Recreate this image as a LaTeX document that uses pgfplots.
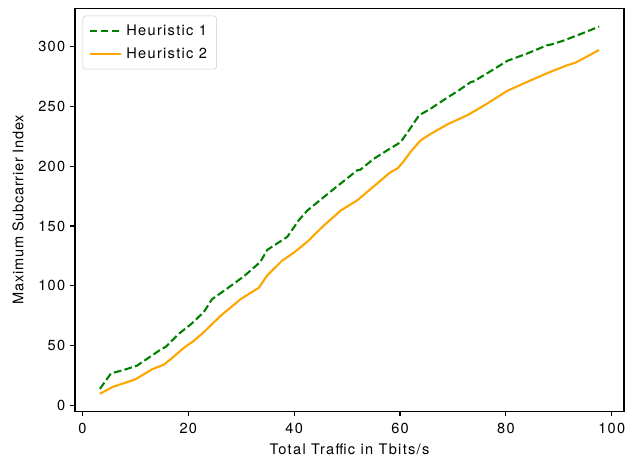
\documentclass[border=0pt]{standalone}
\usepackage{pgfplots}
\pgfplotsset{compat=1.18}
\usepackage{fontspec}
\setmainfont{TeX Gyre Heros}[LetterSpace=9]
\newfontfamily\ylabfont{TeX Gyre Heros}[LetterSpace=5]
\definecolor{mgreen}{HTML}{008000}
\definecolor{morange}{HTML}{FFA500}
\begin{document}
\begin{tikzpicture}
\begin{axis}[
  name=ax,
  scale only axis,
  width=395.3pt, height=290.2pt,
  xmin=-1.4, xmax=102.3,
  ymin=-4.5, ymax=332,
  xtick={0,20,40,60,80,100},
  ytick={0,50,100,150,200,250,300},
  tick align=outside,
  tick pos=left,
  major tick length=3.5pt,
  every tick/.style={black, line width=0.8pt},
  axis line style={line width=0.8pt},
  /pgf/number format/assume math mode=true,
  tick label style={font=\fontsize{10.5}{12}\selectfont},
  xticklabel style={yshift=-1.5pt},
  label style={font=\fontsize{10.5}{12}\selectfont},
  xlabel={Total Traffic in Tbits/s},
  ylabel={\ylabfont Maximum Subcarrier Index},
  xlabel style={at={(axis description cs:0.5,-0.0943)}, anchor=center},
  ylabel style={at={(axis description cs:-0.1038,0.5)}, anchor=center, rotate=0},
  legend style={at={(0,1)}, anchor=north west, xshift=5.5pt, yshift=-5.5pt,
    draw=black!20, rounded corners=2pt, font=\fontsize{10.5}{12}\selectfont,
    row sep=3pt, inner xsep=4pt, inner ysep=4.5pt,
    nodes={inner xsep=3pt}},
  legend cell align=left,
  legend image code/.code={\draw[#1] (0cm,0cm) -- (0.8cm,0cm);},
]
\addplot[mgreen, line width=1.5pt, dash pattern=on 5.55pt off 2.4pt] coordinates {
(3.3,14) (5.4,27) (7.8,29.8) (10.3,33.4) (12.5,40) (15.0,47.5) (15.7,49)
(18.2,60) (20.5,68) (22.9,78) (24.5,89) (27.4,98) (30.5,108) (33.6,120)
(34.9,130) (38.7,141) (40.9,155) (42.5,163) (45,172) (47.5,181) (49.5,188)
(51.9,196.5) (52.5,197) (55,206) (57.5,213) (60.1,220) (61.7,230) (63.6,242.5)
(65.8,248) (68.5,256) (71,263) (73.3,270) (74,271) (77,279) (80.3,288)
(84,294) (87.8,301) (88.5,301.5) (91,305) (94.5,311) (97.6,316.5)
};
\addlegendentry{Heuristic 1}
\addplot[morange, line width=1.5pt] coordinates {
(3.3,10) (5.9,16) (8,19) (10,22) (13.2,30.5) (15.4,34.3) (17,40) (19.2,48.5)
(21,54) (22.9,61.3) (26.1,75) (29.9,89) (33.3,98.4) (34.9,108.7) (37.7,121)
(40,128) (42.5,137) (45.5,150) (48.8,163) (51.9,171.4) (55,183) (58.2,195)
(59.5,198) (60.5,203) (62,212) (63.9,221.6) (65.8,227) (69,235) (72.7,242.5)
(76,251) (80.3,263) (84.7,271.7) (88,278) (91.6,284.3) (93.2,286.5) (97.6,297)
};
\addlegendentry{Heuristic 2}
\end{axis}
\pgfresetboundingbox
\path[use as bounding box] ([shift={(-54pt,-37.4pt)}]ax.south west) rectangle ([shift={(10.1pt,5.8pt)}]ax.north east);
\end{tikzpicture}
\end{document}
